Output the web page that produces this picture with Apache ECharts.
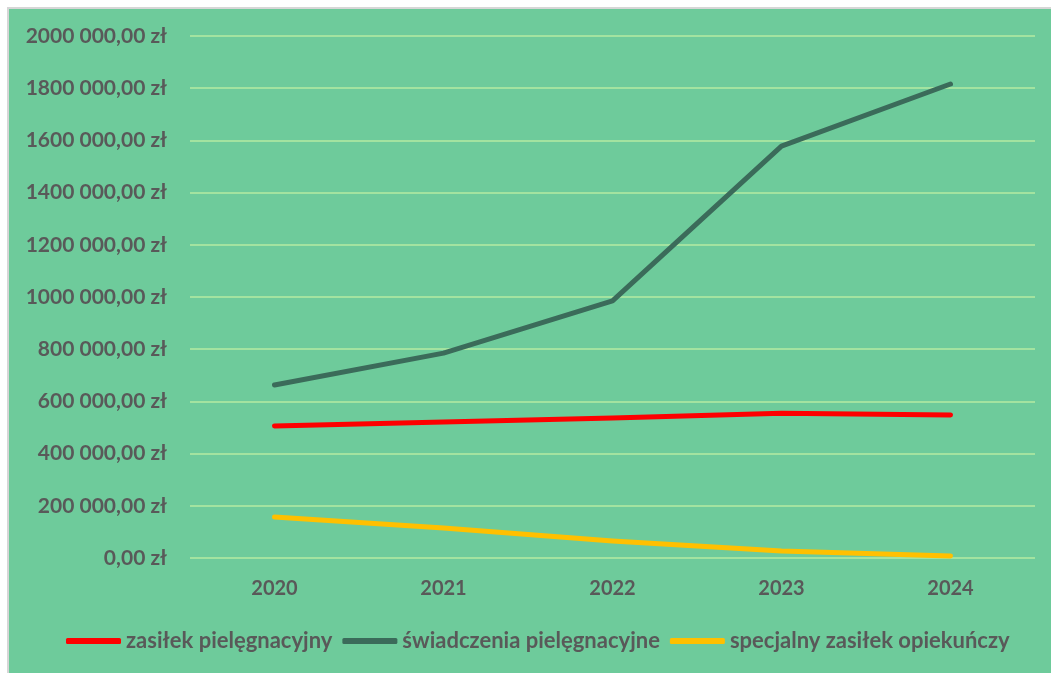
<!DOCTYPE html>
<html>
<head>
<meta charset="utf-8">
<script src="https://cdn.jsdelivr.net/npm/echarts@6/dist/echarts.min.js"></script>
<style>
  html, body { margin: 0; padding: 0; background: #fff; }
  #frame {
    position: absolute; left: 7px; top: 7px;
    width: 1044px; height: 666px;
    border-left: 2px solid #d6d6d6; border-top: 2px solid #d6d6d6;
    box-sizing: border-box;
  }
  #chart { width: 100%; height: 100%; }
</style>
</head>
<body>
<div id="frame"><div id="chart"></div></div>
<script>
// dane
const years = ["2020", "2021", "2022", "2023", "2024"];
const zasilekPiel = [506000, 521000, 536000, 555000, 548000];
const swiadczeniaPiel = [663000, 785000, 985000, 1578000, 1816000];
const specjalnyZasilek = [157000, 115000, 65000, 27000, 8000];

const labelColor = "#595959";
const font = "Lato, sans-serif";

function fmtZl(v) {
  if (v === 0) return "0,00 zł";
  return (v / 1000) + " 000,00 zł";
}

const chart = echarts.init(document.getElementById("chart"));
chart.setOption({
  backgroundColor: "#6ecb9b",
  animation: false,
  textStyle: { fontFamily: font },
  grid: { left: 181, right: 16, top: 27, bottom: 115 },
  legend: {
    bottom: 16,
    left: 52,
    icon: "roundRect",
    itemWidth: 55,
    itemHeight: 6,
    itemGap: 10,
    textStyle: { color: labelColor, fontSize: 22, fontWeight: "bold", fontFamily: font },
    data: ["zasiłek pielęgnacyjny", "świadczenia pielęgnacyjne", "specjalny zasiłek opiekuńczy"]
  },
  xAxis: {
    type: "category",
    data: years,
    boundaryGap: true,
    axisLine: { show: false },
    axisTick: { show: false },
    axisLabel: { color: labelColor, fontSize: 20, fontWeight: "bold", margin: 21 }
  },
  yAxis: {
    type: "value",
    min: 0,
    max: 2000000,
    interval: 200000,
    axisLabel: { color: labelColor, fontSize: 21, fontWeight: "bold", margin: 23, formatter: fmtZl },
    splitLine: { lineStyle: { color: "#a3e3a0", width: 2 } }
  },
  series: [
    {
      name: "zasiłek pielęgnacyjny",
      type: "line",
      data: zasilekPiel,
      symbol: "none",
      color: "#ff0000",
      lineStyle: { width: 5, cap: "round", join: "round" }
    },
    {
      name: "świadczenia pielęgnacyjne",
      type: "line",
      data: swiadczeniaPiel,
      symbol: "none",
      color: "#3b6b5a",
      lineStyle: { width: 5, cap: "round", join: "round" }
    },
    {
      name: "specjalny zasiłek opiekuńczy",
      type: "line",
      data: specjalnyZasilek,
      symbol: "none",
      color: "#ffc000",
      lineStyle: { width: 5, cap: "round", join: "round" }
    }
  ]
});
</script>
</body>
</html>
